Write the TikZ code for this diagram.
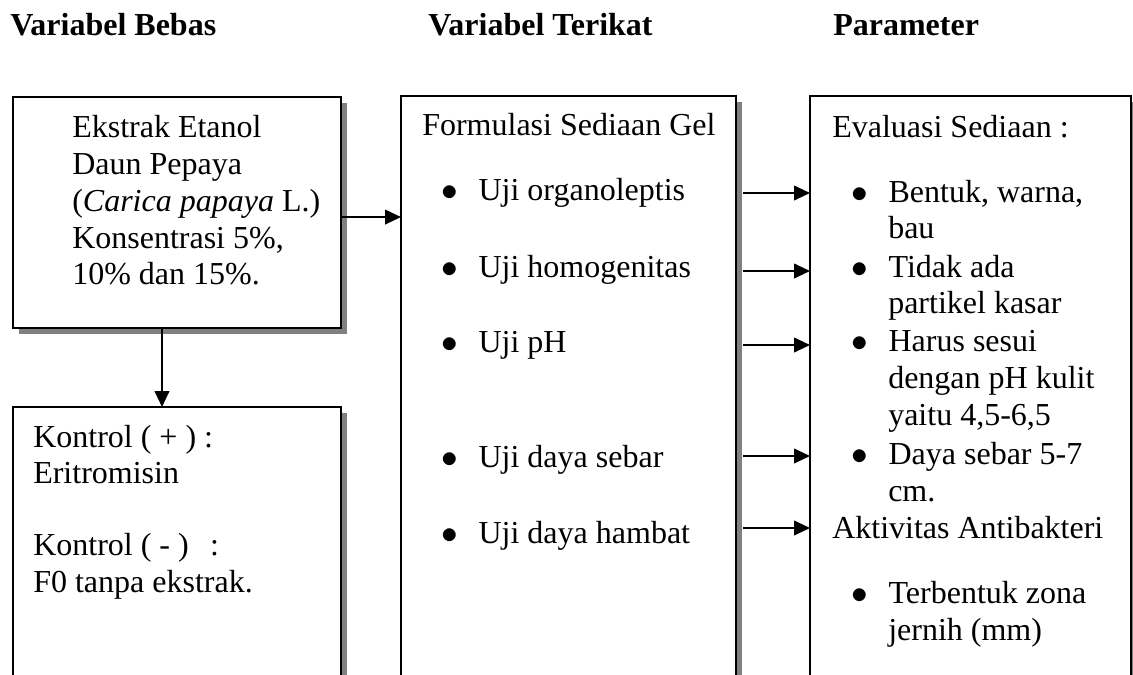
\documentclass[tikz,border=0pt]{standalone}
\usepackage{fontspec}
\setmainfont{Liberation Serif}
\usetikzlibrary{arrows.meta,shadows}
\definecolor{bayang}{HTML}{808080}
\tikzset{
  kotak/.style={draw,line width=1.1pt,fill=white,anchor=north west,inner sep=0pt,outer sep=0pt,
    drop shadow={shadow xshift=4.5pt,shadow yshift=-4.5pt,fill=bayang,opacity=1}},
  teks/.style={anchor=base west,inner sep=0pt,font=\fontsize{24}{27.6}\selectfont},
  judul/.style={teks,font=\fontsize{24}{27.6}\selectfont\bfseries},
  arrow/.style={-{Triangle[length=12pt,width=11pt]},line width=1.5pt}
}
\newcommand{\butir}{\makebox[28pt][l]{$\bullet$}}

\begin{document}
\begin{tikzpicture}[x=0.75pt,y=-0.75pt]
\useasboundingbox (0,0) rectangle (1133,675);
\clip (0,0) rectangle (1133,675);

\node[judul] (jbebas) at (10,35) {Variabel Bebas};
\node[judul] (jterikat) at (428,35) {Variabel Terikat};
\node[judul] (jparam) at (833,35) {Parameter};

\node[kotak,minimum width=246pt,minimum height=173.25pt] (ekstrak) at (13,97) {};
\node[kotak,minimum width=246pt,minimum height=240pt] (kontrol) at (13,407) {};
\node[kotak,minimum width=251.25pt,minimum height=480pt] (formulasi) at (401,96) {};
\node[kotak,minimum width=240.75pt,minimum height=480pt] (param) at (810,96) {};

\node[teks] (e1) at (72,137) {Ekstrak Etanol};
\node[teks] (e2) at (72,174) {Daun Pepaya};
\node[teks] (e3) at (72,211) {(\textit{Carica papaya} L.)};
\node[teks] (e4) at (72,248) {Konsentrasi 5\%,};
\node[teks] (e5) at (72,284) {10\% dan 15\%.};

\node[teks] (k1) at (33,447) {Kontrol ( + ) :};
\node[teks] (k2) at (33,483) {Eritromisin};
\node[teks] (k3) at (33,555) {Kontrol ( - )\hspace{16pt}:};
\node[teks] (k4) at (33,592) {F0 tanpa ekstrak.};

\node[teks] (f0) at (422,135) {Formulasi Sediaan Gel};
\node[teks] (uji1) at (441,200) {\butir Uji organoleptis};
\node[teks] (uji2) at (441,277) {\butir Uji homogenitas};
\node[teks] (uji3) at (441,352) {\butir Uji pH};
\node[teks] (uji4) at (441,467) {\butir Uji daya sebar};
\node[teks] (uji5) at (441,543) {\butir Uji daya hambat};

\node[teks] (p0) at (832,137) {Evaluasi Sediaan :};
\node[teks] (p1) at (851,202) {\butir Bentuk, warna,};
\node[teks] (p1b) at (888,238) {bau};
\node[teks] (p2) at (851,277) {\butir Tidak ada};
\node[teks] (p2b) at (888,313) {partikel kasar};
\node[teks] (p3) at (851,351) {\butir Harus sesui};
\node[teks] (p3b) at (888,388) {dengan pH kulit};
\node[teks] (p3c) at (888,425) {yaitu 4,5-6,5};
\node[teks] (p4) at (851,464) {\butir Daya sebar 5-7};
\node[teks] (p4b) at (888,501) {cm.};
\node[teks] (p5) at (832,538) {Aktivitas Antibakteri};
\node[teks] (p6) at (851,603) {\butir Terbentuk zona};
\node[teks] (p6b) at (888,640) {jernih (mm)};

\draw[arrow] ([yshift=-3.4pt]ekstrak.east) -- ([yshift=-3.4pt]ekstrak.east -| formulasi.west);
\draw[arrow] ([xshift=-11.25pt]ekstrak.south) -- ([xshift=-11.25pt]kontrol.north);
\draw[arrow] ([xshift=5.25pt,yshift=5.25pt]uji1.base -| formulasi.east) -- ([yshift=5.25pt]uji1.base -| param.west);
\draw[arrow] ([xshift=5.25pt,yshift=4.5pt]uji2.base -| formulasi.east) -- ([yshift=4.5pt]uji2.base -| param.west);
\draw[arrow] ([xshift=5.25pt,yshift=5.25pt]uji3.base -| formulasi.east) -- ([yshift=5.25pt]uji3.base -| param.west);
\draw[arrow] ([xshift=5.25pt,yshift=8.25pt]uji4.base -| formulasi.east) -- ([yshift=8.25pt]uji4.base -| param.west);
\draw[arrow] ([xshift=5.25pt,yshift=11.25pt]uji5.base -| formulasi.east) -- ([yshift=11.25pt]uji5.base -| param.west);
\end{tikzpicture}
\end{document}
